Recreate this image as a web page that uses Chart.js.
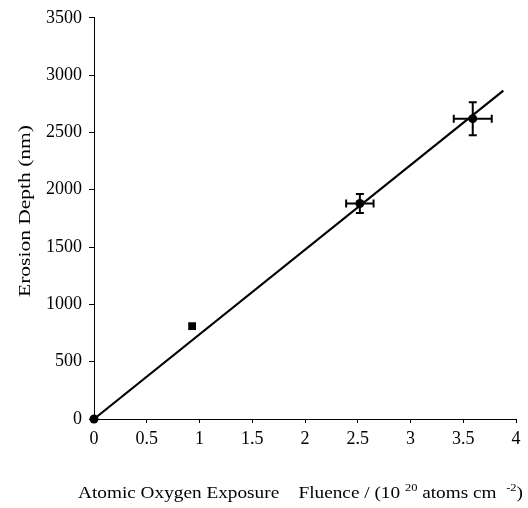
<!DOCTYPE html>
<html>
<head>
<meta charset="utf-8">
<script src="https://cdn.jsdelivr.net/npm/chart.js@4/dist/chart.umd.min.js"></script>
<style>
  html, body { margin: 0; padding: 0; background: #fff; }
  #wrap { width: 528px; height: 508px; position: relative; }
</style>
</head>
<body>
<div id="wrap"><canvas id="c" width="528" height="508"></canvas></div>
<script>
// ---- data ----
const fluence    = [0, 0.93, 2.52, 3.59];      // 10^20 atoms cm^-2
const depth      = [0, 810, 1880, 2620];        // nm
const fluenceErr = [0, 0, 0.13, 0.18];
const depthErr   = [0, 0, 83, 144];
const pointShapes = ['circle', 'rect', 'circle', 'circle'];
const fitX = [0, 3.88];
const fitY = [0, 2865];
const xTicks = [0, 0.5, 1, 1.5, 2, 2.5, 3, 3.5, 4];
const yTicks = [0, 500, 1000, 1500, 2000, 2500, 3000, 3500];
const yTitle = 'Erosion Depth (nm)';
const xTitleParts = [
  {t: 'Atomic Oxygen Exposure', sup: false},
  {t: '    Fluence / (10 ', sup: false},
  {t: '20', sup: true},
  {t: ' atoms cm  ', sup: false},
  {t: '-2', sup: true},
  {t: ')', sup: false}
];

const FONT = '"Liberation Serif", "Times New Roman", serif';

const errorBars = {
  id: 'errorBars',
  afterDatasetsDraw(chart) {
    const ctx = chart.ctx, xs = chart.scales.x, ys = chart.scales.y;
    ctx.save();
    ctx.strokeStyle = '#000';
    ctx.lineWidth = 2;
    const cap = 4;
    for (let i = 0; i < fluence.length; i++) {
      const px = xs.getPixelForValue(fluence[i]);
      const py = ys.getPixelForValue(depth[i]);
      if (fluenceErr[i] > 0) {
        const x1 = xs.getPixelForValue(fluence[i] - fluenceErr[i]);
        const x2 = xs.getPixelForValue(fluence[i] + fluenceErr[i]);
        ctx.beginPath();
        ctx.moveTo(x1, py); ctx.lineTo(x2, py);
        ctx.moveTo(x1, py - cap); ctx.lineTo(x1, py + cap);
        ctx.moveTo(x2, py - cap); ctx.lineTo(x2, py + cap);
        ctx.stroke();
      }
      if (depthErr[i] > 0) {
        const y1 = ys.getPixelForValue(depth[i] - depthErr[i]);
        const y2 = ys.getPixelForValue(depth[i] + depthErr[i]);
        ctx.beginPath();
        ctx.moveTo(px, y1); ctx.lineTo(px, y2);
        ctx.moveTo(px - cap, y1); ctx.lineTo(px + cap, y1);
        ctx.moveTo(px - cap, y2); ctx.lineTo(px + cap, y2);
        ctx.stroke();
      }
    }
    ctx.restore();
  }
};

function drawStretched(ctx, parts, x, y, targetW, size) {
  let w = 0;
  const widths = parts.map(p => {
    ctx.font = (p.sup ? Math.round(size * 0.62) : size) + 'px ' + FONT;
    const m = ctx.measureText(p.t).width;
    w += m;
    return m;
  });
  const sx = targetW / w;
  ctx.save();
  ctx.translate(x, y);
  ctx.scale(sx, 1);
  let cx = 0;
  parts.forEach((p, i) => {
    ctx.font = (p.sup ? Math.round(size * 0.62) : size) + 'px ' + FONT;
    ctx.fillText(p.t, cx, p.sup ? -size * 0.42 : 0);
    cx += widths[i];
  });
  ctx.restore();
}

const titles = {
  id: 'titles',
  afterDraw(chart) {
    const ctx = chart.ctx;
    ctx.save();
    ctx.fillStyle = '#000';
    ctx.textBaseline = 'alphabetic';
    ctx.textAlign = 'left';
    drawStretched(ctx, xTitleParts, 78, 498, 445, 17);
    ctx.save();
    ctx.translate(30, 297);
    ctx.rotate(-Math.PI / 2);
    drawStretched(ctx, [{t: yTitle, sup: false}], 0, 0, 172, 17);
    ctx.restore();
    ctx.restore();
  }
};

new Chart(document.getElementById('c'), {
  type: 'scatter',
  data: {
    datasets: [
      {
        label: 'fit',
        type: 'line',
        data: fitX.map((x, i) => ({x, y: fitY[i]})),
        borderColor: '#000',
        borderWidth: 2.2,
        pointRadius: 0,
        fill: false,
        tension: 0,
        clip: false
      },
      {
        label: 'data',
        data: fluence.map((x, i) => ({x, y: depth[i]})),
        backgroundColor: '#000',
        borderColor: '#000',
        pointStyle: pointShapes,
        pointRadius: [4.5, 5.5, 4.5, 4.5],
        borderWidth: 0,
        clip: false
      }
    ]
  },
  options: {
    responsive: false,
    animation: false,
    devicePixelRatio: 1,
    layout: { padding: { left: 0, top: 17, right: 12, bottom: 0 } },
    plugins: { legend: { display: false }, tooltip: { enabled: false } },
    scales: {
      x: {
        type: 'linear',
        min: 0, max: 4,
        afterFit(s) { s.height = 89; },
        afterBuildTicks(s) { s.ticks = xTicks.map(v => ({value: v})); },
        grid: { drawOnChartArea: false, drawTicks: true, tickLength: 4, color: '#000', lineWidth: 1 },
        border: { display: true, color: '#000', width: 1 },
        ticks: {
          color: '#000', padding: 5, maxRotation: 0,
          font: { family: FONT, size: 18 },
          callback: v => String(v)
        }
      },
      y: {
        type: 'linear',
        min: 0, max: 3500,
        afterFit(s) { s.width = 94; },
        afterBuildTicks(s) { s.ticks = yTicks.map(v => ({value: v})); },
        grid: { drawOnChartArea: false, drawTicks: true, tickLength: 5, color: '#000', lineWidth: 1 },
        border: { display: true, color: '#000', width: 1 },
        ticks: {
          color: '#000', padding: 7,
          font: { family: FONT, size: 18 },
          callback: v => String(v)
        }
      }
    }
  },
  plugins: [errorBars, titles]
});
</script>
</body>
</html>
